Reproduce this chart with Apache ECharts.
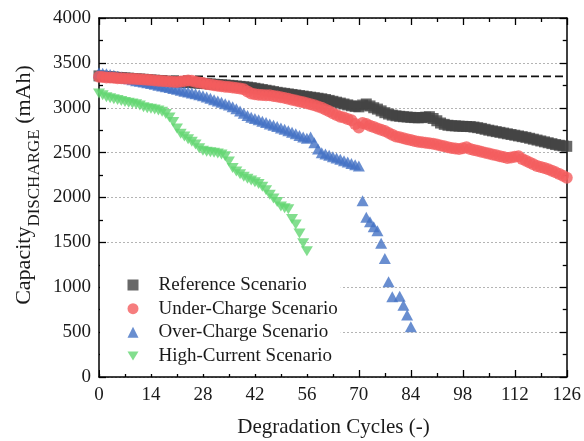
<!DOCTYPE html>
<html>
<head>
<meta charset="utf-8">
<script src="https://cdn.jsdelivr.net/npm/echarts@6/dist/echarts.min.js"></script>
<style>
  html, body { margin: 0; padding: 0; background: #fff; }
  #chart { width: 584px; height: 441px; }
</style>
</head>
<body>
<div id="chart"></div>
<script>
// Discharge capacity (mAh) per degradation cycle; array index = cycle number.
const referenceScenario = [
  3355, 3352, 3348, 3345, 3342, 3338, 3336, 3332, 3330, 3326,
  3322, 3320, 3317, 3313, 3310, 3307, 3304, 3300, 3297, 3294,
  3290, 3288, 3286, 3284, 3282, 3280, 3277, 3274, 3271, 3268,
  3265, 3262, 3259, 3256, 3253, 3250, 3246, 3242, 3238, 3234,
  3230, 3224, 3217, 3210, 3203, 3195, 3188, 3180, 3172, 3165,
  3160, 3154, 3148, 3142, 3136, 3130, 3124, 3118, 3112, 3106,
  3100, 3092, 3082, 3072, 3062, 3052, 3042, 3032, 3022, 3015,
  3010, 3030, 3042, 3020, 3000, 2985, 2965, 2945, 2930, 2918,
  2910, 2905, 2900, 2897, 2893, 2890, 2888, 2890, 2895, 2900,
  2880, 2855, 2830, 2815, 2805, 2800, 2798, 2795, 2793, 2791,
  2790, 2785, 2778, 2770, 2760, 2750, 2742, 2734, 2726, 2718,
  2710, 2702, 2694, 2686, 2678, 2670, 2660, 2650, 2640, 2630,
  2620, 2610, 2600, 2590, 2582, 2576, 2570
];

const underChargeScenario = [
  3345, 3342, 3338, 3336, 3334, 3330, 3328, 3326, 3324, 3322,
  3320, 3318, 3315, 3312, 3308, 3305, 3302, 3298, 3295, 3292,
  3290, 3288, 3292, 3298, 3305, 3302, 3290, 3282, 3275, 3265,
  3258, 3250, 3245, 3240, 3235, 3230, 3225, 3220, 3215, 3205,
  3180, 3160, 3150, 3145, 3142, 3140, 3138, 3132, 3124, 3116,
  3110, 3100, 3090, 3080, 3070, 3060, 3050, 3040, 3028, 3014,
  3000, 2980, 2960, 2940, 2920, 2900, 2890, 2875, 2860, 2820,
  2780, 2830, 2820, 2800, 2785, 2770, 2755, 2740, 2720, 2700,
  2680, 2670, 2660, 2650, 2640, 2630, 2622, 2615, 2610, 2605,
  2600, 2590, 2580, 2570, 2560, 2552, 2545, 2540, 2548, 2560,
  2540, 2530, 2520, 2510, 2500, 2490, 2480, 2470, 2460, 2450,
  2440, 2445, 2455, 2460, 2430, 2410, 2390, 2370, 2350, 2340,
  2330, 2315, 2298, 2280, 2262, 2242, 2220
];

// null = no measurement recorded for that cycle
const overChargeScenario = [
  3390, 3385, 3378, 3370, 3362, 3352, 3343, 3333, 3322, 3312,
  3302, 3294, 3286, 3278, 3270, 3261, 3252, 3243, 3234, 3225,
  3215, 3205, 3195, 3185, 3175, 3165, 3155, 3145, 3135, 3120,
  3105, 3090, 3075, 3060, 3045, 3030, 3010, 2990, 2965, 2940,
  2915, 2895, 2880, 2865, 2850, 2835, 2820, 2805, 2790, 2775,
  2760, 2745, 2728, 2710, 2692, 2675, 2660, 2675, 2610, 2540,
  2500, 2485, 2470, 2455, 2440, 2425, 2410, 2395, 2380, 2365,
  2350, 1965, 1780, 1730, 1675, 1630, 1490, 1320, 1060, 895,
  null, 900, 800, 690, 560
];

const highCurrentScenario = [
  3160, 3140, 3118, 3105, 3095, 3085, 3075, 3065, 3055, 3048,
  3040, 3025, 3005, 2995, 2990, 2980, 2970, 2955, 2930, 2890,
  2840, 2770, 2710, 2680, 2650, 2620, 2590, 2550, 2520, 2510,
  2505, 2498, 2490, 2480, 2460, 2400, 2330, 2290, 2260, 2230,
  2210, 2190, 2170, 2150, 2120, 2080, 2030, 1990, 1950, 1900,
  1880, 1870, 1760, 1700, 1600, 1490, 1400
];

const nominalCapacity = 3350;
const cycleRange = [0, 126];
const seriesNames = ['Reference Scenario', 'Under-Charge Scenario', 'Over-Charge Scenario', 'High-Current Scenario'];

function toPoints(values) {
  const pts = [];
  values.forEach((v, i) => { if (v !== null) pts.push([i, v]); });
  return pts;
}

const FONT = '"Liberation Serif", "Times New Roman", serif';
const INK = '#1a1a1a';
// downward-pointing triangle marker
const DOWN_TRIANGLE = 'path://M0,0L12,0L6,10Z';

const axisLine = { show: true, onZero: false, lineStyle: { color: '#000', width: 1.5 } };
const axisTick = { show: true, inside: true, length: 7, lineStyle: { color: '#000', width: 1.3 } };
const minorTick = { show: true, splitNumber: 2, length: 4, lineStyle: { color: '#000', width: 1.3 } };

const chart = echarts.init(document.getElementById('chart'), null, { renderer: 'canvas' });

chart.setOption({
  animation: false,
  backgroundColor: '#fff',
  grid: { left: 99, right: 16, top: 18, bottom: 64 },
  xAxis: [
    {
      type: 'value', min: cycleRange[0], max: cycleRange[1], interval: 14, position: 'bottom',
      axisLine, axisTick, minorTick,
      axisLabel: { margin: 9, fontSize: 19, fontFamily: FONT, color: INK },
      splitLine: { show: false }
    },
    {
      type: 'value', min: cycleRange[0], max: cycleRange[1], interval: 14, position: 'top',
      axisLine, axisTick, minorTick,
      axisLabel: { show: false }, splitLine: { show: false }
    }
  ],
  yAxis: [
    {
      type: 'value', min: 0, max: 4000, interval: 500, position: 'left',
      axisLine, axisTick, minorTick,
      axisLabel: { margin: 8, fontSize: 19, fontFamily: FONT, color: INK, formatter: v => String(v) },
      splitLine: { show: true, lineStyle: { color: '#b4b4b4', width: 1, type: [2, 2] } }
    },
    {
      type: 'value', min: 0, max: 4000, interval: 500, position: 'right',
      axisLine, axisTick, minorTick,
      axisLabel: { show: false }, splitLine: { show: false }
    }
  ],
  legend: {
    data: seriesNames,
    orient: 'vertical',
    left: 100, top: 257,
    padding: [18, 3, 8, 27.5],
    backgroundColor: '#fff',
    itemWidth: 11, itemHeight: 11, itemGap: 3.67,
    selectedMode: false,
    textStyle: { fontSize: 19, fontFamily: FONT, color: INK, lineHeight: 20, padding: [0, 0, 0, 15] }
  },
  graphic: [
    {
      // x-axis title
      type: 'text', x: 333.5, y: 427,
      style: {
        text: 'Degradation Cycles (-)',
        align: 'center', verticalAlign: 'middle',
        fontSize: 21, fontFamily: FONT, fill: INK
      }
    },
    {
      // y-axis title with subscript
      type: 'text', x: 26, y: 185, rotation: Math.PI / 2,
      style: {
        text: '{a|Capacity}{b|DISCHARGE}{a| (mAh)}',
        align: 'center', verticalAlign: 'middle',
        fill: INK,
        rich: {
          a: { fontSize: 22, fontFamily: FONT, fill: INK, lineHeight: 26, verticalAlign: 'top' },
          b: { fontSize: 17, fontFamily: FONT, fill: INK, lineHeight: 17, padding: [13, 0, 0, 0], verticalAlign: 'top' }
        }
      }
    }
  ],
  series: [
    {
      // nominal capacity reference
      type: 'line', silent: true, z: 1,
      data: [[cycleRange[0], nominalCapacity], [cycleRange[1], nominalCapacity]],
      symbol: 'none',
      lineStyle: { color: '#111', width: 1.6, type: [8, 4] }
    },
    {
      name: seriesNames[0], type: 'scatter', z: 2,
      data: toPoints(referenceScenario),
      symbol: 'rect', symbolSize: 11,
      itemStyle: { color: '#424242' }
    },
    {
      name: seriesNames[1], type: 'scatter', z: 4,
      data: toPoints(underChargeScenario),
      symbol: 'circle', symbolSize: 12,
      itemStyle: { color: '#f45c5e' }
    },
    {
      name: seriesNames[2], type: 'scatter', z: 3,
      data: toPoints(overChargeScenario),
      symbol: 'triangle', symbolSize: [12, 11],
      itemStyle: { color: '#4472c4' }
    },
    {
      name: seriesNames[3], type: 'scatter', z: 3,
      data: toPoints(highCurrentScenario),
      symbol: DOWN_TRIANGLE, symbolSize: [12, 10],
      itemStyle: { color: '#63d672' }
    }
  ]
});
</script>
</body>
</html>
